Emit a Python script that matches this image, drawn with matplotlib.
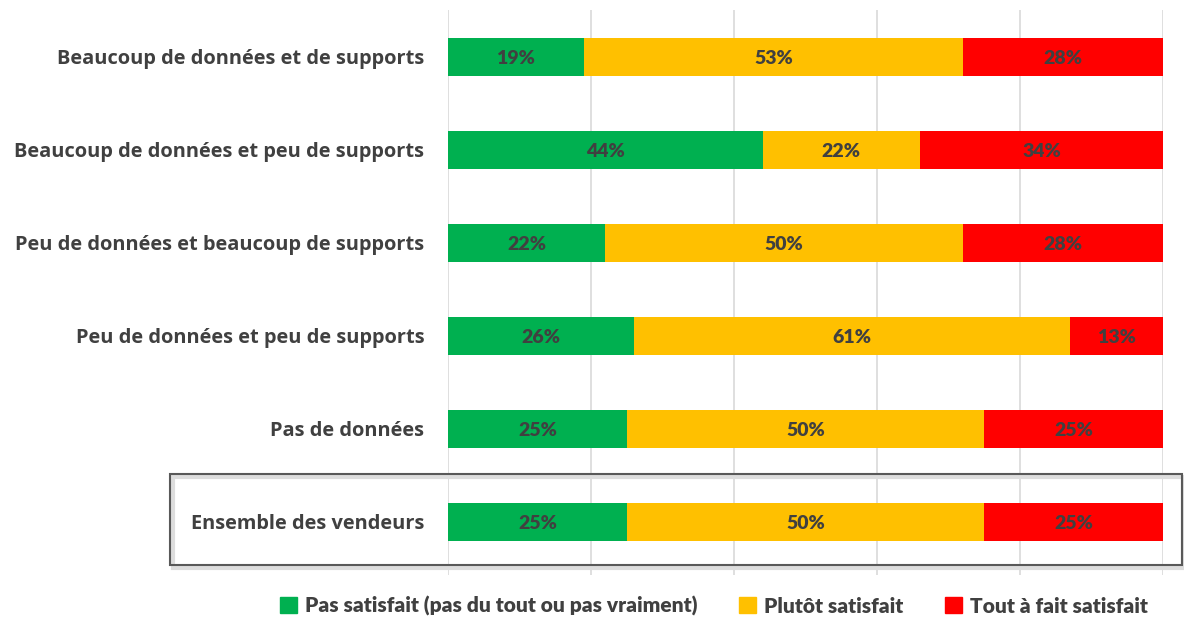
import matplotlib.pyplot as plt
from matplotlib.patches import Rectangle, Patch

categories = [
    "Beaucoup de données et de supports",
    "Beaucoup de données et peu de supports",
    "Peu de données et beaucoup de supports",
    "Peu de données et peu de supports",
    "Pas de données",
    "Ensemble des vendeurs",
]
pas_satisfait = [19, 44, 22, 26, 25, 25]
plutot_satisfait = [53, 22, 50, 61, 50, 50]
tout_a_fait = [28, 34, 28, 13, 25, 25]
series_names = ["Pas satisfait (pas du tout ou pas vraiment)", "Plutôt satisfait", "Tout à fait satisfait"]
colors = ["#00B050", "#FFC000", "#FF0000"]
text_col = "#404040"

fig = plt.figure(figsize=(11.84, 6.19), dpi=100)
ax = fig.add_axes([448 / 1184, 1 - 575 / 619, 715 / 1184, 565 / 619])

ypos = list(range(len(categories)))
left = [0] * len(categories)
for vals, name, c in zip([pas_satisfait, plutot_satisfait, tout_a_fait], series_names, colors):
    ax.barh(ypos, vals, left=left, height=0.4, color=c, label=name, zorder=3)
    for y, v, l in zip(ypos, vals, left):
        ax.text(l + v / 2, y + 0.02, f"{v}%", ha="center", va="center", fontsize=14,
                fontweight=800, color=text_col, family="Lato", zorder=4)
    left = [a + b for a, b in zip(left, vals)]

ax.set_xlim(0, 100)
ax.set_ylim(5.57, -0.505)
ax.set_xticks([0, 20, 40, 60, 80, 100])
ax.grid(axis="x", color="#D9D9D9", lw=1.2, zorder=0)
ax.tick_params(axis="x", length=0, labelbottom=False)
ax.tick_params(axis="y", length=0, pad=17)
ax.set_yticks(ypos)
ax.set_yticklabels(categories, fontsize=14.4, fontweight=700, color=text_col, family="Open Sans")
for s in ax.spines.values():
    s.set_visible(False)

# shadowed frame around the total row
shadow = Rectangle((173 / 1184, 1 - 568 / 619), 1010 / 1184, 91 / 619, transform=fig.transFigure,
                   fill=False, ec="#DDDDDD", lw=3, zorder=0)
fig.patches.append(shadow)
box = Rectangle((170 / 1184, 1 - 565 / 619), 1012 / 1184, 91 / 619, transform=fig.transFigure,
                fill=False, ec="#595959", lw=1.5, zorder=1)
fig.patches.append(box)

handles = [Patch(color=c, label=n) for c, n in zip(colors, series_names)]
leg = fig.legend(handles=handles, loc="center", bbox_to_anchor=(714 / 1184, 1 - 606 / 619), ncol=3,
                 frameon=False, handlelength=0.8, handleheight=0.8, handletextpad=0.4, columnspacing=2.0,
                 prop={"family": "Lato", "weight": 800, "size": 15})
for t in leg.get_texts():
    t.set_color(text_col)

fig.savefig("out.png", dpi=100)
